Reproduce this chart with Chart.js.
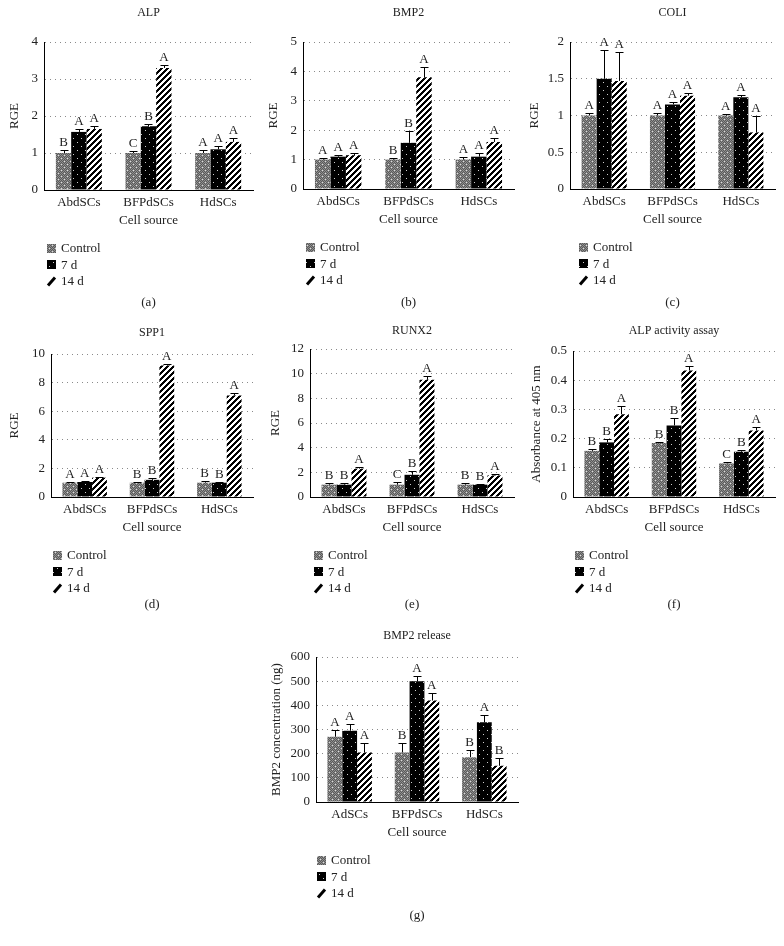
<!DOCTYPE html>
<html>
<head>
<meta charset="utf-8">
<script src="https://cdn.jsdelivr.net/npm/chart.js@4/dist/chart.umd.min.js"></script>
<style>
  html, body { margin: 0; padding: 0; background: #fff; }
  #fig { position: relative; width: 784px; height: 946px; background: #fff; }
  #fig canvas { position: absolute; }
  .cap { position: absolute; font: 13px "Liberation Serif", serif; color: #222; transform: translate(-50%, -50%); white-space: nowrap; }
</style>
</head>
<body>
<div id="fig"></div>
<script>
// ---------- DATA ----------
const CATEGORIES = ['AbdSCs', 'BFPdSCs', 'HdSCs'];
const CATEGORIES_G = ['AdSCs', 'BFPdSCs', 'HdSCs'];
const SERIES = ['Control', '7 d', '14 d'];

// (a) ALP
const ALP_CONTROL = [1.00, 1.00, 1.00];
const ALP_7D      = [1.57, 1.72, 1.10];
const ALP_14D     = [1.65, 3.30, 1.30];
const ALP_CONTROL_ERR = [0.08, 0.05, 0.08];
const ALP_7D_ERR      = [0.07, 0.06, 0.10];
const ALP_14D_ERR     = [0.08, 0.07, 0.10];
const ALP_CONTROL_SIG = ['B', 'C', 'A'];
const ALP_7D_SIG      = ['A', 'B', 'A'];
const ALP_14D_SIG     = ['A', 'A', 'A'];

// (b) BMP2
const BMP2_CONTROL = [1.00, 1.00, 1.00];
const BMP2_7D      = [1.10, 1.57, 1.10];
const BMP2_14D     = [1.15, 3.80, 1.60];
const BMP2_CONTROL_ERR = [0.05, 0.05, 0.10];
const BMP2_7D_ERR      = [0.05, 0.40, 0.12];
const BMP2_14D_ERR     = [0.08, 0.35, 0.13];
const BMP2_CONTROL_SIG = ['A', 'B', 'A'];
const BMP2_7D_SIG      = ['A', 'B', 'A'];
const BMP2_14D_SIG     = ['A', 'A', 'A'];

// (c) COLI
const COLI_CONTROL = [1.00, 1.00, 1.00];
const COLI_7D      = [1.50, 1.15, 1.25];
const COLI_14D     = [1.47, 1.27, 0.77];
const COLI_CONTROL_ERR = [0.03, 0.03, 0.02];
const COLI_7D_ERR      = [0.39, 0.04, 0.03];
const COLI_14D_ERR     = [0.39, 0.04, 0.23];
const COLI_CONTROL_SIG = ['A', 'A', 'A'];
const COLI_7D_SIG      = ['A', 'A', 'A'];
const COLI_14D_SIG     = ['A', 'A', 'A'];

// (d) SPP1
const SPP1_CONTROL = [1.00, 1.00, 1.00];
const SPP1_7D      = [1.05, 1.20, 1.00];
const SPP1_14D     = [1.35, 9.20, 7.10];
const SPP1_CONTROL_ERR = [0.05, 0.05, 0.10];
const SPP1_7D_ERR      = [0.05, 0.10, 0.05];
const SPP1_14D_ERR     = [0.05, 0.10, 0.15];
const SPP1_CONTROL_SIG = ['A', 'B', 'B'];
const SPP1_7D_SIG      = ['A', 'B', 'B'];
const SPP1_14D_SIG     = ['A', 'A', 'A'];

// (e) RUNX2
const RUNX2_CONTROL = [1.00, 1.00, 1.00];
const RUNX2_7D      = [1.00, 1.80, 1.00];
const RUNX2_14D     = [2.30, 9.50, 1.75];
const RUNX2_CONTROL_ERR = [0.15, 0.20, 0.10];
const RUNX2_7D_ERR      = [0.15, 0.30, 0.05];
const RUNX2_14D_ERR     = [0.15, 0.30, 0.10];
const RUNX2_CONTROL_SIG = ['B', 'C', 'B'];
const RUNX2_7D_SIG      = ['B', 'B', 'B'];
const RUNX2_14D_SIG     = ['A', 'A', 'A'];

// (f) ALP activity assay
const ACT_CONTROL = [0.158, 0.185, 0.115];
const ACT_7D      = [0.187, 0.245, 0.155];
const ACT_14D     = [0.283, 0.433, 0.228];
const ACT_CONTROL_ERR = [0.007, 0.004, 0.004];
const ACT_7D_ERR      = [0.010, 0.025, 0.005];
const ACT_14D_ERR     = [0.030, 0.015, 0.013];
const ACT_CONTROL_SIG = ['B', 'B', 'C'];
const ACT_7D_SIG      = ['B', 'B', 'B'];
const ACT_14D_SIG     = ['A', 'A', 'A'];

// (g) BMP2 release
const REL_CONTROL = [270, 205, 185];
const REL_7D      = [295, 500, 330];
const REL_14D     = [205, 420, 150];
const REL_CONTROL_ERR = [30, 40, 30];
const REL_7D_ERR      = [28, 20, 30];
const REL_14D_ERR     = [40, 30, 32];
const REL_CONTROL_SIG = ['A', 'B', 'B'];
const REL_7D_SIG      = ['A', 'A', 'A'];
const REL_14D_SIG     = ['A', 'A', 'B'];

// y-axis tick settings (max, step)
const ALP_TICKS   = [4, 1];
const BMP2_TICKS  = [5, 1];
const COLI_TICKS  = [2, 0.5];
const SPP1_TICKS  = [10, 2];
const RUNX2_TICKS = [12, 2];
const ACT_TICKS   = [0.5, 0.1];
const REL_TICKS   = [600, 100];

// ---------- STYLE / LAYOUT ----------
const FONT = '"Liberation Serif", "Times New Roman", serif';
const TXT = '#222';

function tile(size, draw) {
  const c = document.createElement('canvas');
  c.width = size; c.height = size;
  const g = c.getContext('2d');
  draw(g, size);
  return g.createPattern(c, 'repeat');
}
const PAT_CONTROL = tile(6, (g, n) => {
  g.fillStyle = '#5a5a5a'; g.fillRect(0, 0, n, n);
  g.fillStyle = '#8e8e8e';
  for (let y = 0; y < n; y++) for (let x = 0; x < n; x++) if ((x + y) % 2 === 0) g.fillRect(x, y, 1, 1);
  g.fillStyle = '#dcdcdc'; g.fillRect(1, 2, 1, 1); g.fillRect(4, 5, 1, 1);
});
const PAT_7D = tile(8, (g, n) => {
  g.fillStyle = '#000'; g.fillRect(0, 0, n, n);
  g.fillStyle = '#cfcfcf'; g.fillRect(1, 2, 1, 1); g.fillRect(5, 6, 1, 1);
});
const PAT_14D = tile(6, (g, n) => {
  g.fillStyle = '#fff'; g.fillRect(0, 0, n, n);
  g.fillStyle = '#000';
  for (let y = 0; y < n; y++) for (let x = 0; x < n; x++) if ((x + y) % 6 < 3) g.fillRect(x, y, 1, 1);
});
const PATTERNS = [PAT_CONTROL, PAT_7D, PAT_14D];

const PANELS = [
  { left: 0,   top: 0,   w: 261, h: 296, area: [44, 42, 253, 190], title: 'ALP',   titleY: 13, yTitle: 'RGE', yTitleX: 15, legX: 47, cap: '(a)', capY: 302,
    cats: CATEGORIES, vals: [ALP_CONTROL, ALP_7D, ALP_14D], errs: [ALP_CONTROL_ERR, ALP_7D_ERR, ALP_14D_ERR], sigs: [ALP_CONTROL_SIG, ALP_7D_SIG, ALP_14D_SIG], ticks: ALP_TICKS },
  { left: 261, top: 0,   w: 261, h: 296, area: [42, 42, 253, 189], title: 'BMP2',  titleY: 13, yTitle: 'RGE', yTitleX: 13, legX: 45, cap: '(b)', capY: 302,
    cats: CATEGORIES, vals: [BMP2_CONTROL, BMP2_7D, BMP2_14D], errs: [BMP2_CONTROL_ERR, BMP2_7D_ERR, BMP2_14D_ERR], sigs: [BMP2_CONTROL_SIG, BMP2_7D_SIG, BMP2_14D_SIG], ticks: BMP2_TICKS },
  { left: 522, top: 0,   w: 262, h: 296, area: [48, 42, 253, 189], title: 'COLI',  titleY: 13, yTitle: 'RGE', yTitleX: 13, legX: 57, cap: '(c)', capY: 302,
    cats: CATEGORIES, vals: [COLI_CONTROL, COLI_7D, COLI_14D], errs: [COLI_CONTROL_ERR, COLI_7D_ERR, COLI_14D_ERR], sigs: [COLI_CONTROL_SIG, COLI_7D_SIG, COLI_14D_SIG], ticks: COLI_TICKS },
  { left: 0,   top: 310, w: 261, h: 290, area: [51, 44, 253, 187], title: 'SPP1',  titleY: 23, yTitle: 'RGE', yTitleX: 15, legX: 53, cap: '(d)', capY: 294,
    cats: CATEGORIES, vals: [SPP1_CONTROL, SPP1_7D, SPP1_14D], errs: [SPP1_CONTROL_ERR, SPP1_7D_ERR, SPP1_14D_ERR], sigs: [SPP1_CONTROL_SIG, SPP1_7D_SIG, SPP1_14D_SIG], ticks: SPP1_TICKS },
  { left: 261, top: 310, w: 261, h: 290, area: [49, 39, 253, 187], title: 'RUNX2', titleY: 21, yTitle: 'RGE', yTitleX: 15, legX: 53, cap: '(e)', capY: 294,
    cats: CATEGORIES, vals: [RUNX2_CONTROL, RUNX2_7D, RUNX2_14D], errs: [RUNX2_CONTROL_ERR, RUNX2_7D_ERR, RUNX2_14D_ERR], sigs: [RUNX2_CONTROL_SIG, RUNX2_7D_SIG, RUNX2_14D_SIG], ticks: RUNX2_TICKS },
  { left: 522, top: 310, w: 262, h: 290, area: [51, 41, 253, 187], title: 'ALP activity assay', titleY: 21, yTitle: 'Absorbance at 405 nm', yTitleX: 15, legX: 53, cap: '(f)', capY: 294,
    cats: CATEGORIES, vals: [ACT_CONTROL, ACT_7D, ACT_14D], errs: [ACT_CONTROL_ERR, ACT_7D_ERR, ACT_14D_ERR], sigs: [ACT_CONTROL_SIG, ACT_7D_SIG, ACT_14D_SIG], ticks: ACT_TICKS },
  { left: 250, top: 620, w: 300, h: 290, area: [66, 37, 268, 182], title: 'BMP2 release', titleY: 16, yTitle: 'BMP2 concentration (ng)', yTitleX: 27, legX: 67, cap: '(g)', capY: 295,
    cats: CATEGORIES_G, vals: [REL_CONTROL, REL_7D, REL_14D], errs: [REL_CONTROL_ERR, REL_7D_ERR, REL_14D_ERR], sigs: [REL_CONTROL_SIG, REL_7D_SIG, REL_14D_SIG], ticks: REL_TICKS },
];

const XH = 20; // height reserved for x tick labels

const decorPlugin = {
  id: 'decor',
  afterDatasetsDraw(chart) {
    const ctx = chart.ctx;
    const ys = chart.scales.y;
    ctx.save();
    chart.data.datasets.forEach((ds, i) => {
      const meta = chart.getDatasetMeta(i);
      meta.data.forEach((bar, j) => {
        const v = ds.data[j], e = ds.errors[j];
        const yb = ys.getPixelForValue(v);
        const yt = Math.round(ys.getPixelForValue(v + e)) + 0.5;
        const x = Math.round(bar.x) + 0.5;
        ctx.strokeStyle = '#000';
        ctx.lineWidth = 1;
        ctx.beginPath();
        ctx.moveTo(x, yb); ctx.lineTo(x, yt);
        ctx.moveTo(x - 4, yt); ctx.lineTo(x + 4, yt);
        ctx.stroke();
        ctx.fillStyle = TXT;
        ctx.font = '13px ' + FONT;
        ctx.textAlign = 'center';
        ctx.textBaseline = 'alphabetic';
        ctx.fillText(ds.sig[j], bar.x, yt - 5);
      });
    });
    ctx.restore();
  },
  afterDraw(chart) {
    const p = chart.options.plugins.decor;
    const ctx = chart.ctx;
    const a = chart.chartArea;
    const cx = (a.left + a.right) / 2;
    ctx.save();
    ctx.fillStyle = TXT;
    ctx.textAlign = 'center';
    ctx.textBaseline = 'middle';
    ctx.font = '12px ' + FONT;
    ctx.fillText(p.title, cx, p.titleY);
    ctx.font = '13px ' + FONT;
    ctx.fillText('Cell source', cx, a.bottom + 31);
    // y title
    ctx.save();
    ctx.translate(p.yTitleX, (a.top + a.bottom) / 2);
    ctx.rotate(-Math.PI / 2);
    ctx.fillText(p.yTitle, 0, 0);
    ctx.restore();
    // legend
    ctx.textAlign = 'left';
    SERIES.forEach((name, i) => {
      const ry = a.bottom + 58 + i * 16.5;
      const lx = p.legX;
      if (i < 2) {
        ctx.fillStyle = PATTERNS[i];
        ctx.fillRect(lx, Math.round(ry - 4.5), 9, 9);
      } else {
        ctx.strokeStyle = '#000';
        ctx.lineWidth = 3;
        ctx.beginPath();
        ctx.moveTo(lx + 1, ry + 4.5);
        ctx.lineTo(lx + 8, ry - 3.5);
        ctx.stroke();
      }
      ctx.fillStyle = TXT;
      ctx.fillText(name, lx + 14, ry + 1);
    });
    ctx.restore();
  }
};

const fig = document.getElementById('fig');

PANELS.forEach(p => {
  const cv = document.createElement('canvas');
  cv.width = p.w; cv.height = p.h;
  cv.style.left = p.left + 'px'; cv.style.top = p.top + 'px';
  cv.style.width = p.w + 'px'; cv.style.height = p.h + 'px';
  fig.appendChild(cv);

  const [L, T, R, B] = p.area;
  new Chart(cv.getContext('2d'), {
    type: 'bar',
    data: {
      labels: p.cats,
      datasets: SERIES.map((name, i) => ({
        label: name,
        data: p.vals[i],
        errors: p.errs[i],
        sig: p.sigs[i],
        backgroundColor: PATTERNS[i],
        borderWidth: 0,
        categoryPercentage: 0.66,
        barPercentage: 1.0,
      }))
    },
    options: {
      responsive: false,
      animation: false,
      devicePixelRatio: 1,
      layout: { padding: { left: 0, top: T, right: p.w - R, bottom: p.h - B - XH } },
      plugins: {
        legend: { display: false },
        title: { display: false },
        tooltip: { enabled: false },
        decor: { title: p.title, titleY: p.titleY, yTitle: p.yTitle, yTitleX: p.yTitleX, legX: p.legX }
      },
      scales: {
        x: {
          grid: { display: false, drawTicks: false },
          border: { display: true, color: '#000', width: 1 },
          ticks: { color: TXT, font: { family: FONT, size: 13 }, padding: 5, maxRotation: 0 },
          afterFit: s => { s.height = XH; }
        },
        y: {
          min: 0, max: p.ticks[0],
          grid: { color: '#8a8a8a', lineWidth: 1, drawTicks: false },
          border: { display: true, color: '#000', width: 1, dash: [1, 4] },
          ticks: {
            stepSize: p.ticks[1], color: TXT, font: { family: FONT, size: 13 }, padding: 6,
            callback: v => String(Math.round(v * 1000) / 1000)
          },
          afterFit: s => { s.width = L; }
        }
      }
    },
    plugins: [decorPlugin]
  });

  const cap = document.createElement('div');
  cap.className = 'cap';
  cap.textContent = p.cap;
  cap.style.left = (p.left + (L + R) / 2) + 'px';
  cap.style.top = (p.top + p.capY) + 'px';
  fig.appendChild(cap);
});
</script>
</body>
</html>
